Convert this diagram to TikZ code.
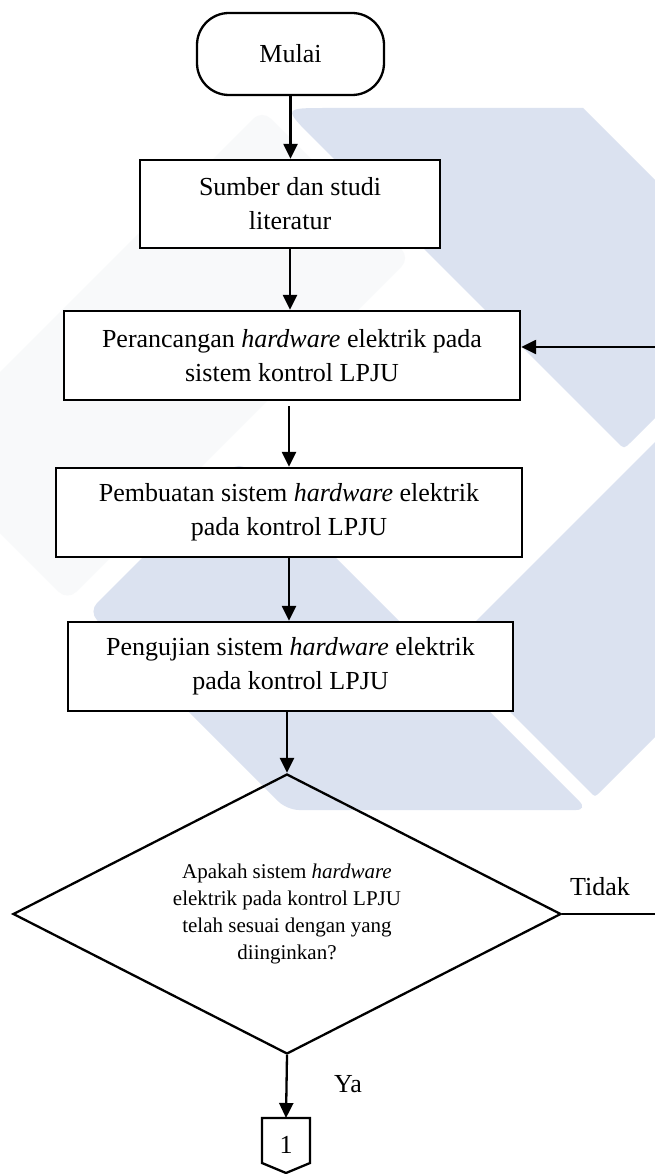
\documentclass[tikz,border=0pt]{standalone}
\usepackage{fontspec}
\setmainfont{Liberation Serif}
\usetikzlibrary{arrows.meta,shapes.geometric,calc}
\definecolor{wmblue}{RGB}{219,226,240}
\definecolor{wmgray}{RGB}{248,249,250}
\begin{document}
\begin{tikzpicture}[x=1pt,y=-1pt,
  stroke/.style={line width=2.3pt},
  txt/.style={font=\fontsize{26}{34}\selectfont},
  box/.style={stroke, draw, fill=white, rectangle, align=center, inner sep=0pt, txt},
  term/.style={stroke, draw, fill=white, rectangle, rounded corners=32pt, inner sep=0pt, txt},
  decision/.style={stroke, draw, diamond, aspect=1.96, inner sep=0pt, align=center,
    font=\fontsize{21}{26.7}\selectfont},
  lbl/.style={inner sep=0pt, txt},
  arr/.style={stroke, -{Triangle[length=15pt,width=14pt]}}]

% page
\fill[white] (0,0) rectangle (654,1174);
\useasboundingbox (0,0) rectangle (654,1174);

% background logo
\fill[wmgray, rounded corners=12pt] (336,184) -- (410,258) -- (67.5,600.5) -- (-30,503)
  -- (-30,402) -- (262,110) -- cycle;
\fill[wmblue] (327,108) -- (583,108) -- (700,225) -- (700,373) -- (631,442)
  .. controls (624,449) .. (617,442) -- (314,139) .. controls (283,108) .. (327,108) -- cycle;
\fill[wmblue] (447.5,649.5) -- (700,397) -- (700,692) -- (600,792)
  .. controls (595,797) .. (590,792) -- cycle;
\fill[wmblue, rounded corners=12pt] (413.5,635.5) -- (239,461) -- (88.5,611.5)
  -- (287,810) -- (588,810) -- cycle;

% flow steps
\node[term, minimum width=187pt, minimum height=82pt] (mulai) at (290.5,54) {Mulai};
\node[box, minimum width=300pt, minimum height=88pt] (sumber) at (290,204)
  {Sumber dan studi\\literatur};
\node[box, minimum width=456pt, minimum height=89pt] (ranc) at (292,355.5)
  {Perancangan \textit{hardware} elektrik pada\\sistem kontrol LPJU};
\node[box, minimum width=466pt, minimum height=89pt] (buat) at (289,512.5)
  {Pembuatan sistem \textit{hardware} elektrik\\pada kontrol LPJU};
\node[box, minimum width=445pt, minimum height=89pt] (uji) at (290.5,666.5)
  {Pengujian sistem \textit{hardware} elektrik\\pada kontrol LPJU};
\node[decision, minimum width=548pt, minimum height=280pt] (cek) at (287,914)
  {Apakah sistem \textit{hardware}\\elektrik pada kontrol LPJU\\telah sesuai dengan yang\\diinginkan?};

% off-page connector
\node[lbl] (sambung) at (286,1145) {1};
\coordinate (sambung-top) at ($(sambung.center)+(0,-27)$);
\draw[stroke, line join=miter] (sambung-top) -- ++(24,0) -- ++(0,45) -- ++(-24,10)
  -- ++(-24,-10) -- ++(0,-45) -- cycle;

% branch labels
\node[lbl] (tidak) at (600,887) {Tidak};
\node[lbl] (ya) at (348,1084) {Ya};

% connectors
\coordinate (balik) at (660,347);
\draw[arr] (mulai.south) -- (mulai.south |- sumber.north);
\draw[arr] (sumber.south) -- (sumber.south |- ranc.north);
\draw[arr, shorten <=5pt] (ranc.south -| buat.north) -- (buat.north);
\draw[arr] (buat.south) -- (buat.south |- uji.north);
\draw[arr] (uji.south -| cek.north) -- (cek.north);
\draw[arr] (cek.south) -- (sambung-top);
\draw[arr] (cek.east) -- (cek.east -| balik) -- (balik) -- (balik -| ranc.east);
\end{tikzpicture}
\end{document}
